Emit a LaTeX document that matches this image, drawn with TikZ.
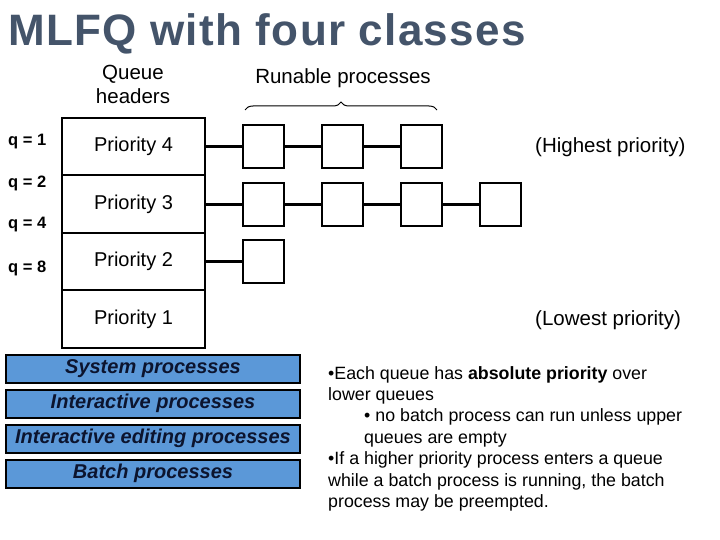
\documentclass[tikz,border=0pt]{standalone}
\usepackage{fontspec}
\setmainfont{Liberation Sans}
\usepackage{xcolor}
\usepackage{tikz}
\usetikzlibrary{positioning, decorations.pathreplacing}
\definecolor{titlegray}{RGB}{68,84,106}
\definecolor{classblue}{RGB}{91,152,216}
\definecolor{classtext}{RGB}{12,20,46}
\tikzset{
  qhead/.style={
    rectangle, draw, line width=2pt, minimum width=143pt, outer sep=0pt,
    minimum height=57.5pt, inner sep=0pt, font=\fontsize{20}{22}\selectfont
  },
  proc/.style={
    rectangle, draw, line width=2.5pt, minimum width=41pt, outer sep=0pt,
    minimum height=43pt, inner sep=0pt
  },
  link/.style={draw, line width=2.5pt},
  qlabel/.style={anchor=west, inner sep=0pt, font=\fontsize{16.5}{18}\selectfont\bfseries},
  cls/.style={
    rectangle, draw=black, line width=2pt, fill=classblue,
    minimum width=294pt, minimum height=28pt, inner sep=0pt,
    font=\fontsize{20}{22}\selectfont\bfseries\itshape, text=classtext
  },
  plain/.style={inner sep=0pt, font=\fontsize{20.5}{24}\selectfont},
}

\begin{document}
\begin{tikzpicture}[x=1pt, y=-1pt, node distance=38pt]
  \useasboundingbox (0,0) rectangle (720,540);

  % title
  \node[anchor=base west, inner sep=0pt, text=titlegray,
        font=\fontsize{44}{46}\selectfont\bfseries\addfontfeature{LetterSpace=3}] (title) at (8,46) {MLFQ with four classes};

  % queue headers
  \node[plain, align=center] (headtxt) at (133,84) {Queue\\headers};
  \node[qhead] (P4) at (133.5,146.5) {Priority 4};
  \node[qhead, below=0pt of P4] (P3) {Priority 3};
  \node[qhead, below=0pt of P3] (P2) {Priority 2};
  \node[qhead, below=0pt of P2] (P1) {Priority 1};

  % quantum labels
  \node[qlabel] (q1) at (8,142) {q = 1};
  \node[qlabel] (q2) at (8,183) {q = 2};
  \node[qlabel] (q4) at (8,225) {q = 4};
  \node[qlabel] (q8) at (8,268) {q = 8};

  % runable processes
  \node[proc] (a1) at (263.5,146.5) {};
  \node[proc, right=of a1] (a2) {};
  \node[proc, right=of a2] (a3) {};
  \node[proc] (b1) at (263.5,204.5) {};
  \node[proc, right=of b1] (b2) {};
  \node[proc, right=of b2] (b3) {};
  \node[proc, right=of b3] (b4) {};
  \node[proc] (c1) at (263.5,261.5) {};

  \path[link] (P4.east |- a1) -- (a1) (a1) -- (a2) (a2) -- (a3);
  \path[link] (P3.east |- b1) -- (b1) (b1) -- (b2) (b2) -- (b3) (b3) -- (b4);
  \path[link] (P2.east |- c1) -- (c1);

  % brace
  \node[plain] (runtxt) at (343,78) {Runable processes};
  \coordinate (brl) at (245,110);
  \coordinate (brr) at (437,110);
  \draw[line width=1pt, decorate, decoration={brace, amplitude=8pt}] (brl) -- (brr);

  \node[plain, anchor=west] (high) at (535,147) {(Highest priority)};
  \node[plain, anchor=west] (low) at (535,320) {(Lowest priority)};

  % process classes
  \node[cls] (sys) at (153,368.5) {System processes};
  \node[cls] (inter) at (153,403.5) {Interactive processes};
  \node[cls] (edit) at (153,438.5) {Interactive editing processes};
  \node[cls] (batch) at (153,473.5) {Batch processes};

  % notes
  \node[anchor=north west, inner sep=0pt, align=left,
        font=\fontsize{17.8}{21.4}\selectfont] (notes) at (328,366) {%
    •Each queue has \textbf{absolute priority} over\\
    lower queues\\
    \hspace*{36pt}• no batch process can run unless upper\\
    \hspace*{36pt}queues are empty\\
    •If a higher priority process enters a queue\\
    while a batch process is running, the batch\\
    process may be preempted.};
\end{tikzpicture}
\end{document}
